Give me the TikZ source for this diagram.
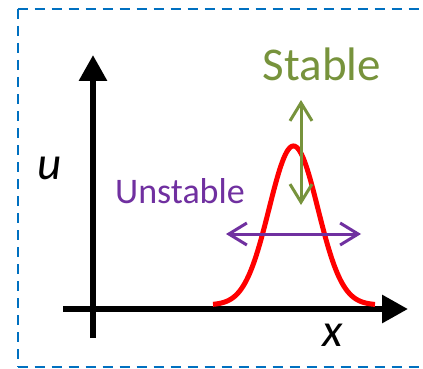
\documentclass[tikz,border=0pt]{standalone}
\usepackage{fontspec}
\setmainfont{Carlito}
\usetikzlibrary{arrows.meta}
\definecolor{boxblue}{HTML}{0070C0}
\definecolor{stabgreen}{HTML}{77933C}
\definecolor{unstpurple}{HTML}{7030A0}
\tikzset{
  frame/.style={draw=boxblue, line width=2pt, dash pattern=on 10pt off 7pt},
  axis/.style={line width=6pt, -{Triangle[width=27pt,length=26pt]}},
  stabarrow/.style={stabgreen, line width=3pt, {Straight Barb[width=22pt,length=18pt]}-{Straight Barb[width=22pt,length=18pt]}},
  unstarrow/.style={unstpurple, line width=3pt, {Straight Barb[width=22pt,length=18pt]}-{Straight Barb[width=22pt,length=18pt]}},
  lbl/.style={inner sep=0pt, anchor=center},
}
\begin{document}
\begin{tikzpicture}[x={(1pt,0)}, y={(0,-1pt)}]
\fill[white] (0,0) rectangle (423,369);
\useasboundingbox (0,0) rectangle (423,369);
\begin{scope}
\clip (0,0) rectangle (423,369);
\coordinate (ftl) at (17.5,9);
\coordinate (fbl) at (17.5,367);
\coordinate (ftr) at (440,9);
\coordinate (fbr) at (440,367);
\draw[frame] (ftl) -- (ftr);
\draw[frame] (ftl) -- (fbl);
\draw[frame] (fbl) -- (fbr);
\end{scope}
\coordinate (yb) at (93,338);
\coordinate (yt) at (93,55);
\coordinate (xl) at (63,309);
\coordinate (xr) at (408,309);
\draw[axis] (yb) -- (yt);
\draw[axis] (xl) -- (xr);
\draw[red, line width=5pt, domain=213:375, samples=120, smooth]
  plot (\x, {305 - 159*exp(-((\x-293.5)*(\x-293.5))/(2*24.4*24.4))});
\coordinate (st) at (301,100);
\coordinate (sb) at (301,205);
\draw[stabarrow] (st) -- (sb);
\coordinate (ul) at (226,234);
\coordinate (ur) at (361,234);
\draw[unstarrow] (ul) -- (ur);
\node[lbl, text=stabgreen, font=\fontsize{47}{50}\selectfont] (stable) at (322,64) {Stable};
\node[lbl, text=unstpurple, font=\fontsize{36}{40}\selectfont] (unstable) at (180,191) {Unstable};
\node[lbl, font=\fontsize{47}{50}\selectfont\itshape] (ulab) at (50,168) {u};
\node[lbl, font=\fontsize{47}{50}\selectfont\itshape] (xlab) at (333,335) {x};
\end{tikzpicture}
\end{document}
